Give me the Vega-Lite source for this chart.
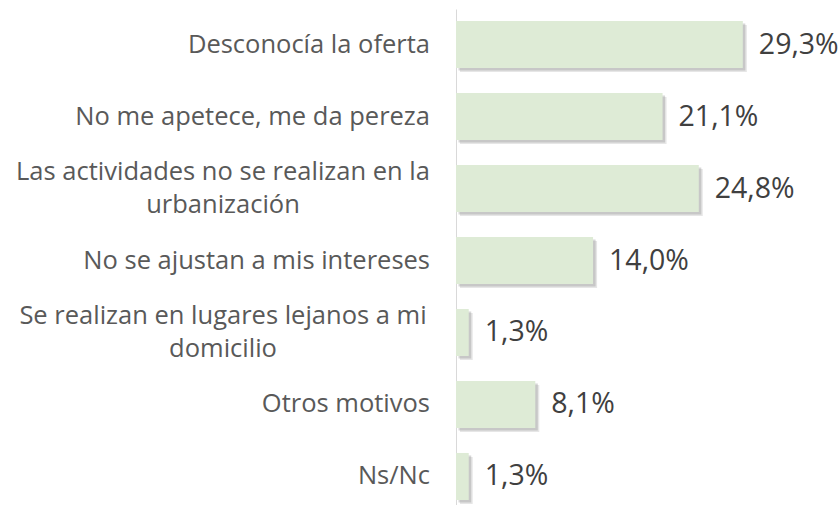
{
  "$schema": "https://vega.github.io/schema/vega-lite/v6.json",
  "autosize": "none",
  "width": 372,
  "height": 503,
  "padding": {"left": 456, "top": 9, "right": 12, "bottom": 0},
  "background": "white",
  "config": {
    "view": {"stroke": null},
    "locale": {"number": {"decimal": ",", "thousands": ".", "grouping": [3], "currency": ["", " €"]}}
  },
  "data": {
    "values": [
      {"cat": "A", "label": "Desconocía la oferta", "lines": 1, "pct": 0.293},
      {"cat": "B", "label": "No me apetece, me da pereza", "lines": 1, "pct": 0.211},
      {"cat": "C", "label": "Las actividades no se realizan en la\nurbanización", "lines": 2, "pct": 0.248},
      {"cat": "D", "label": "No se ajustan a mis intereses", "lines": 1, "pct": 0.14},
      {"cat": "E", "label": "Se realizan en lugares lejanos a mi\ndomicilio", "lines": 2, "pct": 0.013},
      {"cat": "F", "label": "Otros motivos", "lines": 1, "pct": 0.081},
      {"cat": "G", "label": "Ns/Nc", "lines": 1, "pct": 0.013}
    ]
  },
  "encoding": {
    "y": {
      "field": "cat",
      "type": "nominal",
      "sort": null,
      "scale": {"paddingInner": 0.347, "paddingOuter": 0.167},
      "axis": {"title": null, "labels": false, "ticks": false, "domain": true, "domainColor": "#D9D9D9", "domainWidth": 1, "grid": false}
    },
    "x": {
      "field": "pct",
      "type": "quantitative",
      "scale": {"domain": [0, 0.38], "nice": false},
      "axis": null
    }
  },
  "layer": [
    {"mark": {"type": "bar", "color": "#8c8c8c", "opacity": 0.22, "xOffset": 4, "yOffset": 4}},
    {"mark": {"type": "bar", "color": "#8c8c8c", "opacity": 0.35, "xOffset": 2.5, "yOffset": 2.5}},
    {"mark": {"type": "bar", "color": "#DEEBD6"}},
    {
      "mark": {"type": "text", "align": "left", "baseline": "middle", "dx": 16, "font": "Open Sans", "fontSize": 28.5, "color": "#404040"},
      "encoding": {"text": {"field": "pct", "type": "quantitative", "format": ".1%"}}
    },
    {
      "transform": [{"filter": "datum.lines == 1"}],
      "mark": {"type": "text", "align": "right", "baseline": "middle", "dx": -26, "font": "Open Sans", "fontSize": 25.5, "color": "#595959"},
      "encoding": {"x": {"datum": 0}, "text": {"field": "label"}}
    },
    {
      "transform": [{"filter": "datum.lines == 2"}],
      "mark": {"type": "text", "align": "center", "baseline": "middle", "dx": -233, "dy": -16.5, "lineBreak": "\n", "lineHeight": 33, "font": "Open Sans", "fontSize": 25.5, "color": "#595959"},
      "encoding": {"x": {"datum": 0}, "text": {"field": "label"}}
    }
  ]
}
